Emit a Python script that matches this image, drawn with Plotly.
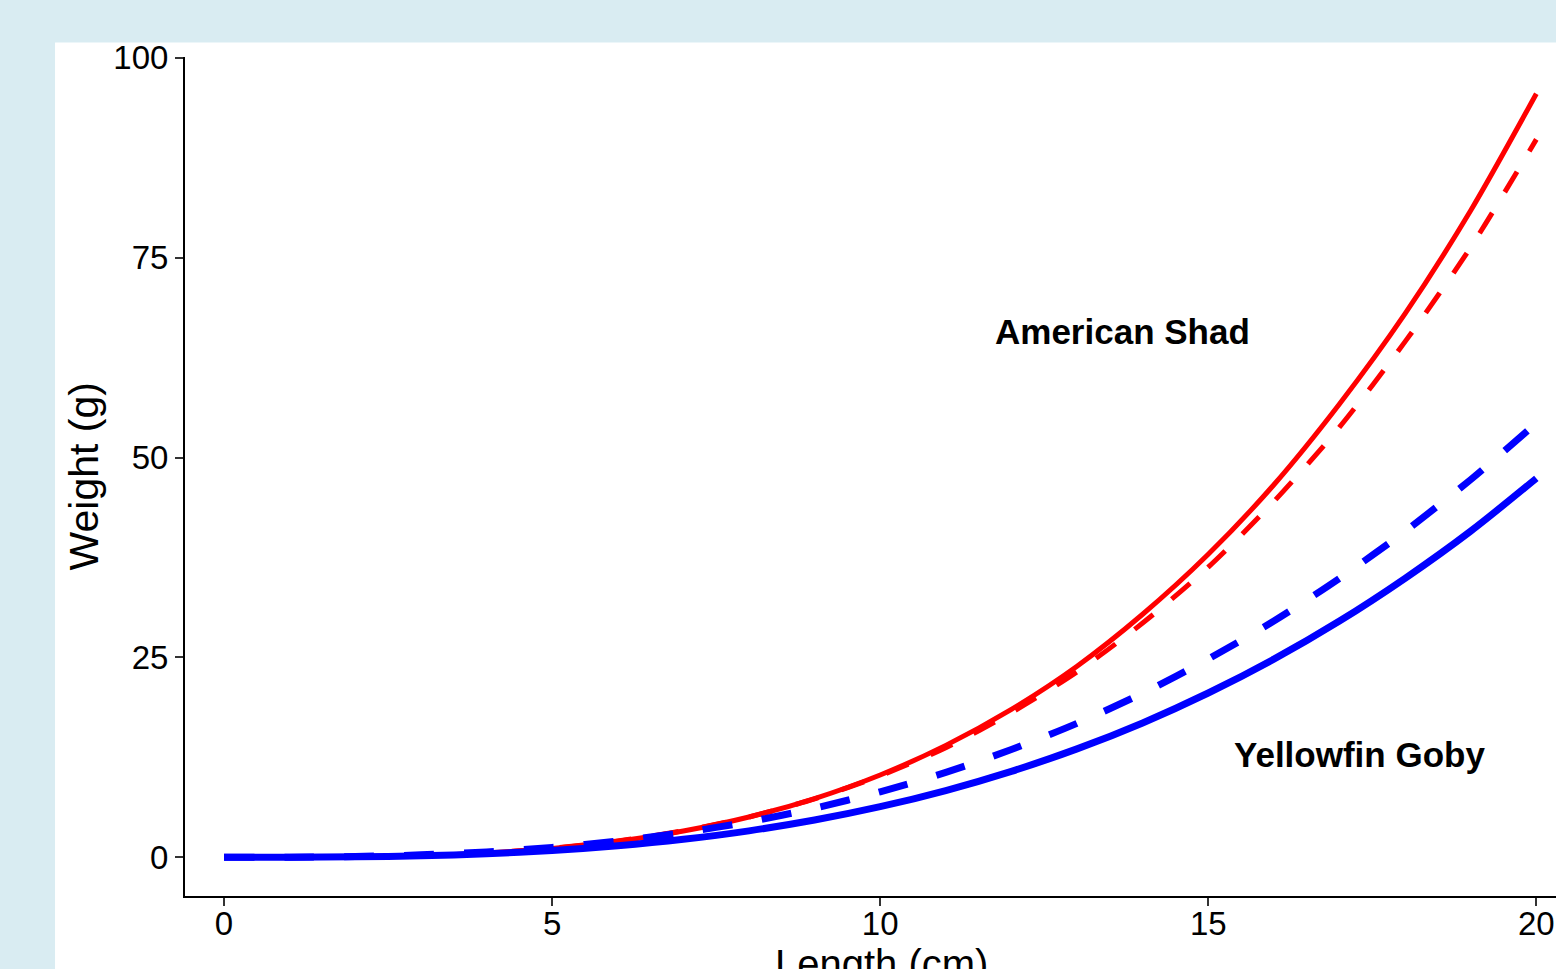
import plotly.graph_objects as go

# Length (cm) at which each curve is evaluated
lengths = list(range(0, 21))

# Predicted weight (g) for each length
shad_solid = [0, 0.0064, 0.059, 0.216, 0.544, 1.11, 2.00, 3.28, 5.04, 7.35, 10.3,
              14.0, 18.5, 23.9, 30.4, 37.9, 46.6, 56.7, 68.0, 80.9, 95.5]
shad_dashed = [0, 0.0074, 0.065, 0.232, 0.573, 1.15, 2.05, 3.32, 5.04, 7.31, 10.2,
               13.7, 18.1, 23.2, 29.3, 36.3, 44.5, 53.8, 64.5, 76.3, 89.8]
goby_solid = [0, 0.0079, 0.059, 0.191, 0.442, 0.845, 1.44, 2.25, 3.31, 4.66, 6.33,
              8.35, 10.75, 13.56, 16.81, 20.55, 24.78, 29.55, 34.9, 40.8, 47.4]
goby_dashed = [0, 0.0153, 0.101, 0.306, 0.672, 1.24, 2.03, 3.09, 4.45, 6.14, 8.19,
               10.62, 13.48, 16.76, 20.53, 24.8, 29.55, 34.89, 40.78, 47.24, 54.3]

x_ticks = [0, 5, 10, 15, 20]
y_ticks = [0, 25, 50, 75, 100]

species_labels = ["American Shad", "Yellowfin Goby"]
label_pos = [(13.70, 65.8), (17.31, 12.8)]

RED = "#ff0000"
BLUE = "#0000ff"


def curve(y, color, width, dash=None):
    line = dict(color=color, width=width, shape="spline", smoothing=0.8)
    if dash:
        line["dash"] = dash
    return go.Scatter(x=lengths, y=y, mode="lines", line=line, hoverinfo="skip")


fig = go.Figure()
fig.add_trace(curve(shad_solid, RED, 5))
fig.add_trace(curve(shad_dashed, RED, 5, "24px,24px"))
fig.add_trace(curve(goby_solid, BLUE, 7))
fig.add_trace(curve(goby_dashed, BLUE, 7, "30px,30px"))

for text, (lx, ly) in zip(species_labels, label_pos):
    fig.add_annotation(x=lx, y=ly, xref="x", yref="y", text=f"<b>{text}</b>",
                       showarrow=False, xanchor="center", yanchor="middle",
                       font=dict(family="Liberation Sans", size=35, color="black"))

# axis titles
fig.add_annotation(x=0.5077, y=-0.081, xref="paper", yref="paper", text="Length (cm)",
                   showarrow=False, xanchor="center", yanchor="middle",
                   font=dict(family="Liberation Sans", size=40, color="black"))
fig.add_annotation(x=-0.0735, y=0.5003, xref="paper", yref="paper", text="Weight (g)",
                   textangle=-90, showarrow=False, xanchor="center", yanchor="middle",
                   font=dict(family="Liberation Sans", size=41, color="black"))

# white panel behind the plot
fig.add_shape(type="rect", xref="paper", yref="paper", x0=-0.0948, x1=1.2,
              y0=-0.3, y1=1.01727, fillcolor="white", line=dict(width=0), layer="below")

axis_common = dict(showgrid=False, zeroline=False, showline=True, linecolor="black",
                   linewidth=2, ticks="outside", ticklen=8, tickwidth=2,
                   tickcolor="#333333",
                   tickfont=dict(family="Liberation Sans", size=33, color="black"))

fig.update_xaxes(range=[-0.595, 20.30], tickvals=x_ticks,
                 ticktext=[str(v) for v in x_ticks], ticklabelstandoff=-11,
                 **axis_common)
fig.update_yaxes(range=[-4.84, 100.1], tickvals=y_ticks,
                 ticktext=[str(v) for v in y_ticks], **axis_common)

fig.update_layout(
    width=1556, height=969,
    margin=dict(l=185, r=0, t=56.5, b=73),
    paper_bgcolor="#d9ecf2",
    plot_bgcolor="white",
    showlegend=False,
)

fig.write_html("out.html")
